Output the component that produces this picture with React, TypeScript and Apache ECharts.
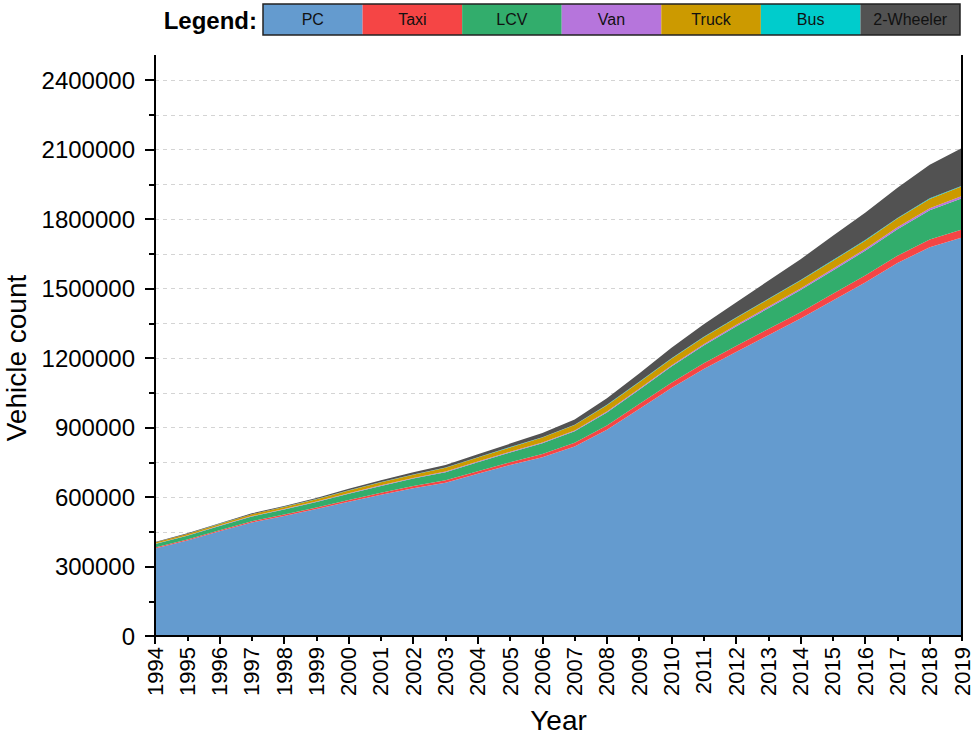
import React, { useEffect, useRef } from "react";
import * as echarts from "echarts";

// Registered vehicles per year, stacked by vehicle class
const years = [
  "1994", "1995", "1996", "1997", "1998", "1999", "2000", "2001", "2002",
  "2003", "2004", "2005", "2006", "2007", "2008", "2009", "2010", "2011",
  "2012", "2013", "2014", "2015", "2016", "2017", "2018", "2019",
];

const pc = [
  378000, 412000, 452000, 490000, 518000, 548000, 580000, 610000, 638000,
  662000, 700000, 738000, 772000, 818000, 890000, 980000, 1070000, 1153000,
  1226000, 1298000, 1370000, 1448000, 1526000, 1610000, 1678000, 1720000,
];
const taxi = [
  4000, 4500, 5000, 5500, 6000, 6500, 7000, 8000, 9000, 10000, 11000, 12000,
  14000, 16000, 19000, 21000, 23000, 24000, 26000, 27000, 28000, 29000, 30000,
  31000, 33000, 35000,
];
const lcv = [
  15000, 16000, 18000, 20000, 22000, 24000, 27000, 30000, 33000, 35000, 39000,
  42000, 46000, 50000, 56000, 62000, 70000, 77000, 84000, 90000, 95000, 101000,
  107000, 115000, 127000, 135000,
];
const van = [
  1500, 1500, 1500, 2000, 2000, 2000, 2000, 2500, 2500, 3000, 3000, 3000, 3500,
  3500, 4000, 4500, 5000, 5500, 6000, 6500, 7000, 7000, 7500, 8000, 8500, 9000,
];
const truck = [
  5000, 6000, 7000, 8000, 9000, 10000, 12000, 13000, 14000, 16000, 17000,
  19000, 21000, 23000, 27000, 28000, 29000, 30000, 31000, 32000, 34000, 35000,
  36000, 38000, 40000, 42000,
];
const bus = [
  500, 500, 500, 500, 500, 500, 1000, 1000, 1000, 1000, 1500, 1500, 1500, 1500,
  2000, 2000, 2000, 2000, 2000, 2000, 2500, 2500, 2500, 2500, 3000, 3000,
];
const twoWheeler = [
  2000, 2500, 3000, 3500, 4000, 5000, 7000, 8000, 9000, 11000, 13000, 15000,
  18000, 22000, 28000, 36000, 45000, 54000, 65000, 78000, 90000, 105000,
  118000, 130000, 145000, 162000,
];

const seriesNames = ["PC", "Taxi", "LCV", "Van", "Truck", "Bus", "2-Wheeler"];
const seriesData = [pc, taxi, lcv, van, truck, bus, twoWheeler];
const seriesColors = [
  "#649bcf", "#f54545", "#32ad6c", "#b675dc", "#cc9a00", "#00cccc", "#525252",
];

const FONT = "'Liberation Sans', Arial, Helvetica, sans-serif";

export default function App() {
  const ref = useRef<HTMLDivElement>(null);

  useEffect(() => {
    if (!ref.current) return;
    const chart = echarts.init(ref.current, undefined, { renderer: "svg" });

    const gridLeft = 155;
    const gridRight = 962;
    const gridTop = 80;
    const gridBottom = 636;
    const frameTop = 55;

    // Legend box: one coloured cell per vehicle class
    const legLeft = 263;
    const legRight = 960;
    const legTop = 4;
    const legH = 31;
    const cellW = (legRight - legLeft) / seriesNames.length;
    const legendChildren: any[] = [];
    seriesNames.forEach((name, i) => {
      legendChildren.push({
        type: "rect",
        shape: { x: legLeft + i * cellW, y: legTop, width: cellW, height: legH },
        style: { fill: seriesColors[i] },
      });
      legendChildren.push({
        type: "text",
        x: legLeft + i * cellW + cellW / 2,
        y: legTop + legH / 2,
        style: {
          text: name,
          fill: "#111",
          font: `16px ${FONT}`,
          align: "center",
          verticalAlign: "middle",
        },
      });
    });
    legendChildren.push({
      type: "rect",
      shape: { x: legLeft, y: legTop, width: legRight - legLeft, height: legH },
      style: { fill: "none", stroke: "#222", lineWidth: 1.5 },
    });
    legendChildren.push({
      type: "text",
      x: 257,
      y: legTop + legH / 2 + 1,
      style: {
        text: "Legend:",
        fill: "#000",
        font: `bold 24px ${FONT}`,
        align: "right",
        verticalAlign: "middle",
      },
    });

    chart.setOption({
      animation: false,
      backgroundColor: "#ffffff",
      grid: {
        left: gridLeft,
        top: gridTop,
        width: gridRight - gridLeft,
        height: gridBottom - gridTop,
        containLabel: false,
        outerBoundsMode: "none",
      },
      graphic: [
        ...legendChildren,
        // frame lines drawn above the stacked areas
        {
          type: "line",
          z: 100,
          shape: { x1: gridLeft, y1: frameTop, x2: gridLeft, y2: gridBottom + 1 },
          style: { stroke: "#000", lineWidth: 2 },
        },
        {
          type: "line",
          z: 100,
          shape: { x1: gridRight, y1: frameTop, x2: gridRight, y2: gridBottom + 1 },
          style: { stroke: "#000", lineWidth: 2 },
        },
      ],
      xAxis: [
        {
          type: "category",
          data: years,
          boundaryGap: false,
          axisLine: { show: true, lineStyle: { color: "#000", width: 2 } },
          axisTick: {
            show: true,
            length: 8,
            interval: (i: number) => i % 2 === 0,
            lineStyle: { color: "#000", width: 2 },
          },
          axisLabel: {
            interval: 0,
            rotate: 90,
            color: "#000",
            fontSize: 22,
            fontFamily: FONT,
            margin: 11,
          },
          splitLine: { show: false },
          name: "Year",
          nameLocation: "middle",
          nameGap: 70,
          nameTextStyle: { color: "#000", fontSize: 28, fontFamily: FONT },
          z: 10,
        },
        {
          type: "category",
          data: years,
          boundaryGap: false,
          position: "bottom",
          axisLine: { show: false },
          axisTick: {
            show: true,
            length: 5,
            interval: 0,
            lineStyle: { color: "#000", width: 2 },
          },
          axisLabel: { show: false },
          splitLine: { show: false },
        },
      ],
      yAxis: [
        {
          type: "value",
          min: 0,
          max: 2400000,
          interval: 300000,
          axisLine: { show: true, lineStyle: { color: "#000", width: 2 } },
          axisTick: { show: true, length: 10, lineStyle: { color: "#000", width: 2 } },
          minorTick: {
            show: true,
            splitNumber: 2,
            length: 6,
            lineStyle: { color: "#000", width: 2 },
          },
          splitLine: {
            show: true,
            lineStyle: { color: "#d4d4d4", type: [4, 4], width: 1 },
          },
          minorSplitLine: {
            show: true,
            lineStyle: { color: "#d4d4d4", type: [4, 4], width: 1 },
          },
          axisLabel: {
            color: "#000",
            fontSize: 24,
            fontFamily: FONT,
            margin: 20,
            formatter: (v: number) => String(v),
          },
          name: "Vehicle count",
          nameLocation: "middle",
          nameGap: 122,
          nameTextStyle: { color: "#000", fontSize: 28, fontFamily: FONT },
        },
      ],
      series: seriesNames.map((name, i) => ({
        name,
        type: "line",
        stack: "total",
        data: seriesData[i],
        xAxisIndex: 0,
        yAxisIndex: 0,
        symbol: "none",
        showSymbol: false,
        lineStyle: { width: 0, color: seriesColors[i] },
        itemStyle: { color: seriesColors[i] },
        areaStyle: { color: seriesColors[i], opacity: 1 },
      })),
    });

    return () => chart.dispose();
  }, []);

  return (
    <div
      ref={ref}
      style={{ position: "fixed", left: 0, top: 0, width: 973, height: 740 }}
    />
  );
}
